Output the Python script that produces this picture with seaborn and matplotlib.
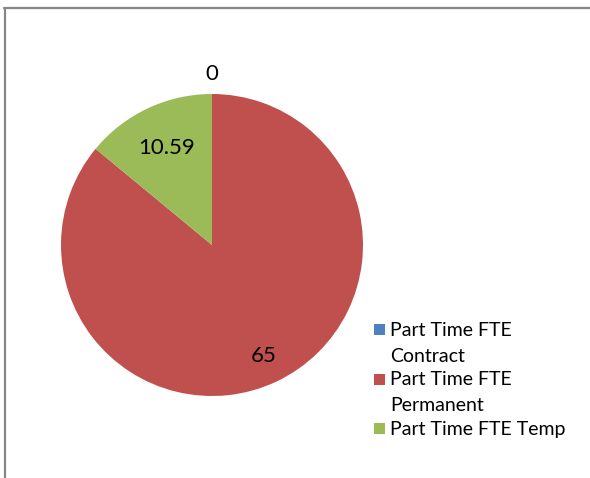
import numpy as np
import seaborn as sns
import matplotlib.pyplot as plt
from matplotlib.lines import Line2D
from matplotlib.patches import Rectangle

# data
categories = ["Part Time FTE\nContract", "Part Time FTE\nPermanent", "Part Time FTE Temp"]
values = [0, 65, 10.59]
value_labels = ["0", "65", "10.59"]
colors = ["#4F81BD", "#C0504D", "#9BBB59"]

sns.set_theme(style="white")
plt.rcParams['font.family'] = ['Lato', 'DejaVu Sans']

W, H = 590, 478
fig = plt.figure(figsize=(W / 100, H / 100), dpi=100)

# pie axes: centre ~(212,245) px, radius ~151 px
r = 151
ax = fig.add_axes([(212 - r) / W, (H - 245 - r) / H, 2 * r / W, 2 * r / H])
wedges, _ = ax.pie(values, colors=colors, startangle=90, counterclock=False,
                   radius=1, wedgeprops=dict(linewidth=0))
ax.set_xlim(-1, 1)
ax.set_ylim(-1, 1)
ax.set_aspect('equal')
ax.axis('off')

# data labels placed along each wedge's mid angle
label_dist = [1.13, 0.81, 0.71]
for w, lab, d in zip(wedges, value_labels, label_dist):
    ang = np.deg2rad((w.theta1 + w.theta2) / 2)
    ax.text(d * np.cos(ang), d * np.sin(ang), lab, ha='center', va='center',
            fontsize=16, color='black')

# legend, Excel-style: square marker beside first line of wrapped label
for i, (cat, col) in enumerate(zip(categories, colors)):
    y = 330 + i * 49.5
    fig.add_artist(Rectangle((374 / W, 1 - (y + 5) / H), 11 / W, 11 / H,
                             transform=fig.transFigure, color=col, lw=0))
    for k, line in enumerate(cat.split("\n")):
        fig.text(390 / W, 1 - (y + k * 26) / H, line, ha='left', va='center',
                 fontsize=14, color='black')

# chart frame (left and top edges visible)
fig.add_artist(Line2D([5 / W, 5 / W], [0, 1 - 8 / H], color='#868686', lw=1.6))
fig.add_artist(Line2D([4 / W, 1], [1 - 8 / H, 1 - 8 / H], color='#868686', lw=1.6))

fig.savefig("out.png", dpi=100)
